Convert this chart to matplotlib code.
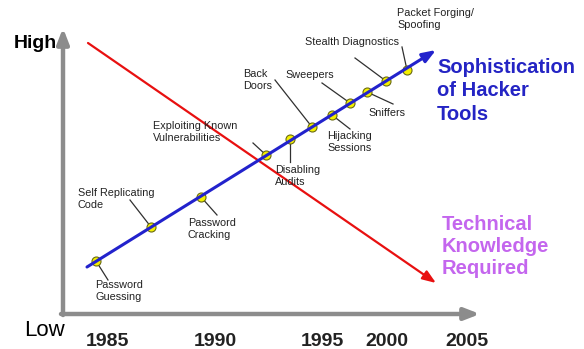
import matplotlib.pyplot as plt

# positions (x to the right, y downwards, in pixels)
event_labels = ["Password\nGuessing", "Self Replicating\nCode", "Password\nCracking",
                "Exploiting Known\nVulnerabilities", "Disabling\nAudits", "Back\nDoors",
                "Hijacking\nSessions", "Sweepers", "Sniffers", "Stealth Diagnostics",
                "Packet Forging/\nSpoofing"]
event_x = [96, 151, 201, 266, 290, 312, 332, 350, 367, 386, 407]
event_y = [261, 227, 197, 155, 139, 127, 115, 103, 92, 81, 70]
# label anchor (left, top) and leader line end
label_x = [95, 78, 188, 153, 275, 243, 327, 285, 368, 305, 397]
label_y = [280, 188, 218, 121, 165, 69, 131, 70, 108, 37, 8]
leader_x = [108, 130, 217, 253, 290, 275, 350, 322, 393, 355, 402]
leader_y = [280, 200, 215, 143, 162, 80, 129, 83, 104, 58, 47]

tool_line_x = [87, 436]
tool_line_y = [267, 50]
know_line_x = [88, 436]
know_line_y = [43, 283]

years = ["1985", "1990", "1995", "2000", "2005"]
year_x = [107, 215, 322, 387, 467]

fig = plt.figure(figsize=(5.84, 3.49), dpi=100)
ax = fig.add_axes([0, 0, 1, 1])
ax.set_xlim(0, 584)
ax.set_ylim(349, 0)
ax.axis("off")

font = ["Liberation Sans", "DejaVu Sans"]

# gray axes
ax.annotate("", xy=(63, 28), xytext=(63, 315),
            arrowprops=dict(arrowstyle="-|>,head_length=0.9,head_width=0.35",
                            color="#8c8c8c", lw=3.2, shrinkA=0, shrinkB=0))
ax.annotate("", xy=(480, 314), xytext=(61, 314),
            arrowprops=dict(arrowstyle="-|>,head_length=0.9,head_width=0.35",
                            color="#8c8c8c", lw=3.2, shrinkA=0, shrinkB=0))

# knowledge line (red)
ax.annotate("", xy=(know_line_x[1], know_line_y[1]), xytext=(know_line_x[0], know_line_y[0]),
            arrowprops=dict(arrowstyle="-|>,head_length=0.8,head_width=0.3",
                            color="#e81010", lw=1.6, shrinkA=0, shrinkB=0))

# leader lines
for i in range(len(event_x)):
    ax.plot([event_x[i], leader_x[i]], [event_y[i], leader_y[i]], color="#303030", lw=0.9)

# tools line (blue)
ax.annotate("", xy=(tool_line_x[1], tool_line_y[1]), xytext=(tool_line_x[0], tool_line_y[0]),
            arrowprops=dict(arrowstyle="-|>,head_length=0.8,head_width=0.3",
                            color="#2222cc", lw=2.2, shrinkA=0, shrinkB=0))
ax.plot(event_x, event_y, linestyle="none", marker="o", markersize=6.5,
        markerfacecolor="#f4f000", markeredgecolor="#6a6a10", markeredgewidth=0.8)

for i in range(len(event_x)):
    ax.text(label_x[i], label_y[i], event_labels[i], fontsize=7.8, family=font,
            color="#222222", ha="left", va="top", linespacing=1.3)

ax.text(35, 43, "High", fontsize=14, fontweight="bold", family=font, ha="center", va="center")
ax.text(44, 330, "Low", fontsize=16, family=font, ha="center", va="center")
for yx, yl in zip(year_x, years):
    ax.text(yx, 341, yl, fontsize=14, fontweight="bold", family=font,
            color="#222222", ha="center", va="center")

ax.text(437, 91, "Sophistication\nof Hacker\nTools", fontsize=14.5, fontweight="bold",
        family=font, color="#2424c4", ha="left", va="center", linespacing=1.3)
ax.text(442, 247, "Technical\nKnowledge\nRequired", fontsize=14.5, fontweight="bold",
        family=font, color="#c466ee", ha="left", va="center", linespacing=1.2)

fig.savefig("out.png", dpi=100)
